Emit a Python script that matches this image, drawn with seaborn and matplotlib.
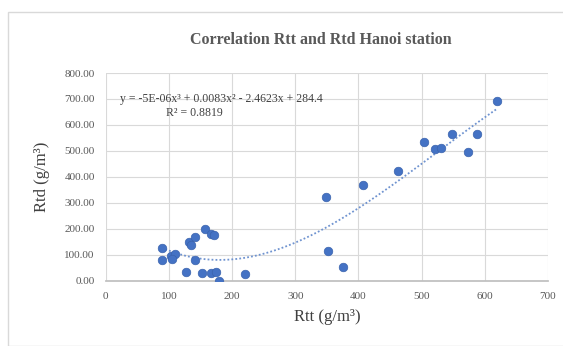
import numpy as np
import pandas as pd
import matplotlib
matplotlib.use("Agg")
import matplotlib.pyplot as plt
import seaborn as sns
from matplotlib.patches import Rectangle

rtt = [89.5, 88.4, 103.7, 109, 104, 131.6, 135, 141, 140.5, 127, 157, 166, 172,
       151.6, 167, 173.7, 180, 221, 349, 352, 376, 408, 463, 503.5, 520.6, 531,
       548.5, 573, 587.5, 620]
rtd = [125, 80, 96, 104, 85, 150, 137, 169, 81, 34, 200, 181, 175,
       29, 31, 35, 0, 27.5, 323, 116, 53, 368, 424, 534, 507, 511,
       565, 497, 566, 693]
x_ticks = [0, 100, 200, 300, 400, 500, 600, 700]
y_ticks = [0, 100, 200, 300, 400, 500, 600, 700, 800]
title = "Correlation Rtt and Rtd Hanoi station"
eq_text = "y = -5E-06x³ + 0.0083x² - 2.4623x + 284.4"
r2_text = "R² = 0.8819"

df = pd.DataFrame({"Rtt": rtt, "Rtd": rtd})

sns.set_theme(style="white")
plt.rcParams['font.family'] = ['Liberation Serif', 'DejaVu Serif']

fig = plt.figure(figsize=(5.63, 3.46), dpi=100)
ax = fig.add_axes([0.188, 0.188, 0.785, 0.601])

# chart area border
fig.patches.append(Rectangle((0.014, 0.0), 0.99, 0.965, transform=fig.transFigure,
                             fill=False, edgecolor="#d9d9d9", linewidth=1.0))

ax.grid(True, color="#d9d9d9", linewidth=0.8)
ax.set_axisbelow(True)

sns.regplot(data=df, x="Rtt", y="Rtd", order=3, ci=None, ax=ax,
            scatter_kws=dict(s=38, color="#4472c4", edgecolor="#3a63ad", linewidths=0.5, alpha=1, zorder=3),
            line_kws=dict(color="#6f93d0", linestyle=(0, (1, 1.2)), linewidth=1.3, zorder=2))

ax.set_xlim(0, 700)
ax.set_ylim(0, 800)
ax.set_xticks(x_ticks)
ax.set_yticks(y_ticks)
ax.set_xticklabels([str(t) for t in x_ticks])
ax.set_yticklabels([f"{t:.2f}" for t in y_ticks])
ax.tick_params(axis="both", labelsize=8, colors="#595959", length=0, pad=8)

for s in ["top", "right", "left"]:
    ax.spines[s].set_visible(False)
ax.spines["bottom"].set_color("#bfbfbf")

ax.set_xlabel("Rtt (g/m³)", fontsize=12, color="#404040", labelpad=6)
ax.set_ylabel("Rtd (g/m³)", fontsize=12, color="#404040", labelpad=10)

fig.text(0.57, 0.885, title, ha="center", va="center", fontsize=11.5,
         fontweight="bold", color="#595959")

ax.text(0.262, 0.875, eq_text, transform=ax.transAxes, ha="center", va="center",
        fontsize=8.5, color="#404040")
ax.text(0.20, 0.81, r2_text, transform=ax.transAxes, ha="center", va="center",
        fontsize=8.5, color="#404040")

fig.savefig("out.png", dpi=100)
